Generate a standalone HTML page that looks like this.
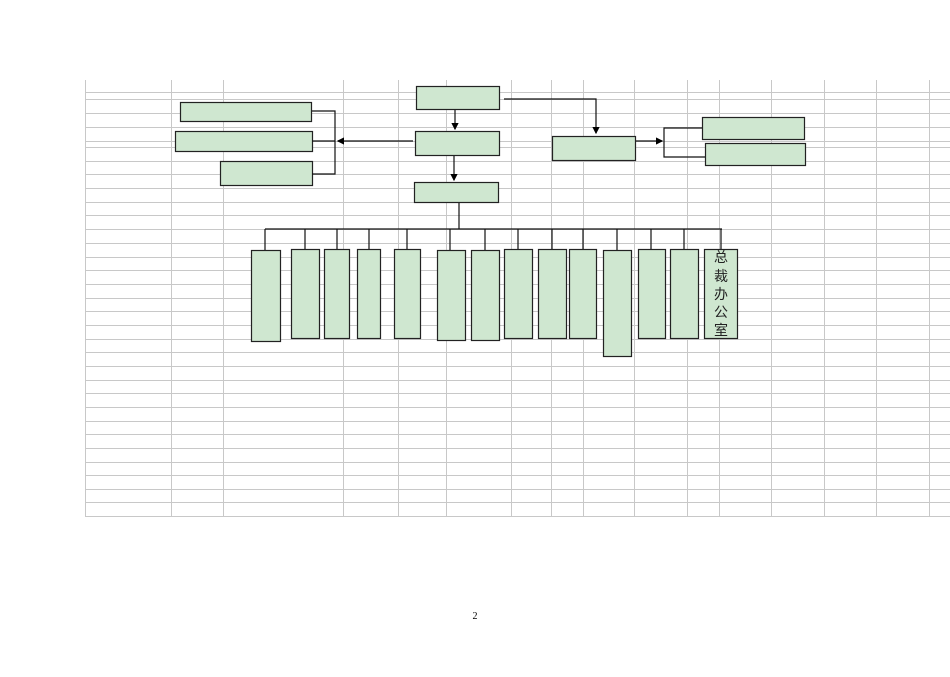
<!DOCTYPE html><html><head><meta charset="utf-8"><style>body{margin:0;background:#fff;width:950px;height:672px;overflow:hidden}</style></head><body>
<svg width="950" height="672" xmlns="http://www.w3.org/2000/svg">
<defs><marker id="a" markerWidth="6" markerHeight="6" refX="5" refY="3" orient="auto"><path d="M0,0L6,3L0,6z" fill="#000"/></marker></defs>
<g stroke="#c8c8c8" stroke-width="1">
<line x1="85.5" y1="80" x2="85.5" y2="516"/><line x1="171.5" y1="80" x2="171.5" y2="516"/><line x1="223.5" y1="80" x2="223.5" y2="516"/><line x1="343.5" y1="80" x2="343.5" y2="516"/><line x1="398.5" y1="80" x2="398.5" y2="516"/><line x1="446.5" y1="80" x2="446.5" y2="516"/><line x1="511.5" y1="80" x2="511.5" y2="516"/><line x1="551.5" y1="80" x2="551.5" y2="516"/><line x1="583.5" y1="80" x2="583.5" y2="516"/><line x1="634.5" y1="80" x2="634.5" y2="516"/><line x1="687.5" y1="80" x2="687.5" y2="516"/><line x1="719.5" y1="80" x2="719.5" y2="516"/><line x1="771.5" y1="80" x2="771.5" y2="516"/><line x1="824.5" y1="80" x2="824.5" y2="516"/><line x1="876.5" y1="80" x2="876.5" y2="516"/><line x1="929.5" y1="80" x2="929.5" y2="516"/>
</g>
<g stroke="#c8c8c8" stroke-width="1" id="h"></g>
<script>var g=document.getElementById('h');[92,99,113,127,141,147,161,174,188,202,215,229,243,257,270,284,298,311,325,339,352,366,380,393,407,421,434,448,462,475,489,502,516].forEach(function(y){var l=document.createElementNS('http://www.w3.org/2000/svg','line');l.setAttribute('x1',85);l.setAttribute('x2',950);l.setAttribute('y1',y+.5);l.setAttribute('y2',y+.5);g.appendChild(l);});</script>
<g fill="#cfe7d0" stroke="#222" stroke-width="1.2">
<rect x="416.5" y="86.5" width="83" height="23"/>
<rect x="415.5" y="131.5" width="84" height="24"/>
<rect x="414.5" y="182.5" width="84" height="20"/>
<rect x="180.5" y="102.5" width="131" height="19"/>
<rect x="175.5" y="131.5" width="137" height="20"/>
<rect x="220.5" y="161.5" width="92" height="24"/>
<rect x="552.5" y="136.5" width="83" height="24"/>
<rect x="702.5" y="117.5" width="102" height="22"/>
<rect x="705.5" y="143.5" width="100" height="22"/>
<rect x="251.5" y="250.5" width="29" height="91"/>
<rect x="291.5" y="249.5" width="28" height="89"/>
<rect x="324.5" y="249.5" width="25" height="89"/>
<rect x="357.5" y="249.5" width="23" height="89"/>
<rect x="394.5" y="249.5" width="26" height="89"/>
<rect x="437.5" y="250.5" width="28" height="90"/>
<rect x="471.5" y="250.5" width="28" height="90"/>
<rect x="504.5" y="249.5" width="28" height="89"/>
<rect x="538.5" y="249.5" width="28" height="89"/>
<rect x="569.5" y="249.5" width="27" height="89"/>
<rect x="603.5" y="250.5" width="28" height="106"/>
<rect x="638.5" y="249.5" width="27" height="89"/>
<rect x="670.5" y="249.5" width="28" height="89"/>
<rect x="704.5" y="249.5" width="33" height="89"/>
</g>
<g stroke="#111" stroke-width="1.2" fill="none">
<line x1="455" y1="110" x2="455" y2="129" marker-end="url(#a)"/>
<line x1="454" y1="156" x2="454" y2="180" marker-end="url(#a)"/>
<line x1="413" y1="141" x2="338" y2="141" marker-end="url(#a)"/>
<polyline points="312,111 335,111 335,174 312,174"/>
<line x1="312" y1="141" x2="335" y2="141"/>
<polyline points="504,99 596,99 596,133" marker-end="url(#a)"/>
<line x1="636" y1="141" x2="662" y2="141" marker-end="url(#a)"/>
<polyline points="702,128 664,128 664,157 705,157"/>
<line x1="459" y1="203" x2="459" y2="229"/>
<line x1="265" y1="229" x2="722" y2="229"/>
<path d="M265,229V250M305,229V249M337,229V249M369,229V249M407,229V249M450,229V250M485,229V250M518,229V249M552,229V249M583,229V249M617,229V250M651,229V249M684,229V249M721,229V249"/>
</g>
<text x="721" y="262" font-family="Liberation Sans,Noto Sans CJK SC,sans-serif" font-size="14" text-anchor="middle" fill="#222">总</text>
<text x="721" y="281" font-family="Liberation Sans,Noto Sans CJK SC,sans-serif" font-size="14" text-anchor="middle" fill="#222">裁</text>
<text x="721" y="299" font-family="Liberation Sans,Noto Sans CJK SC,sans-serif" font-size="14" text-anchor="middle" fill="#222">办</text>
<text x="721" y="317" font-family="Liberation Sans,Noto Sans CJK SC,sans-serif" font-size="14" text-anchor="middle" fill="#222">公</text>
<text x="721" y="335" font-family="Liberation Sans,Noto Sans CJK SC,sans-serif" font-size="14" text-anchor="middle" fill="#222">室</text>
<text x="475" y="619" font-family="Liberation Serif,serif" font-size="10" text-anchor="middle">2</text>
</svg></body></html>
